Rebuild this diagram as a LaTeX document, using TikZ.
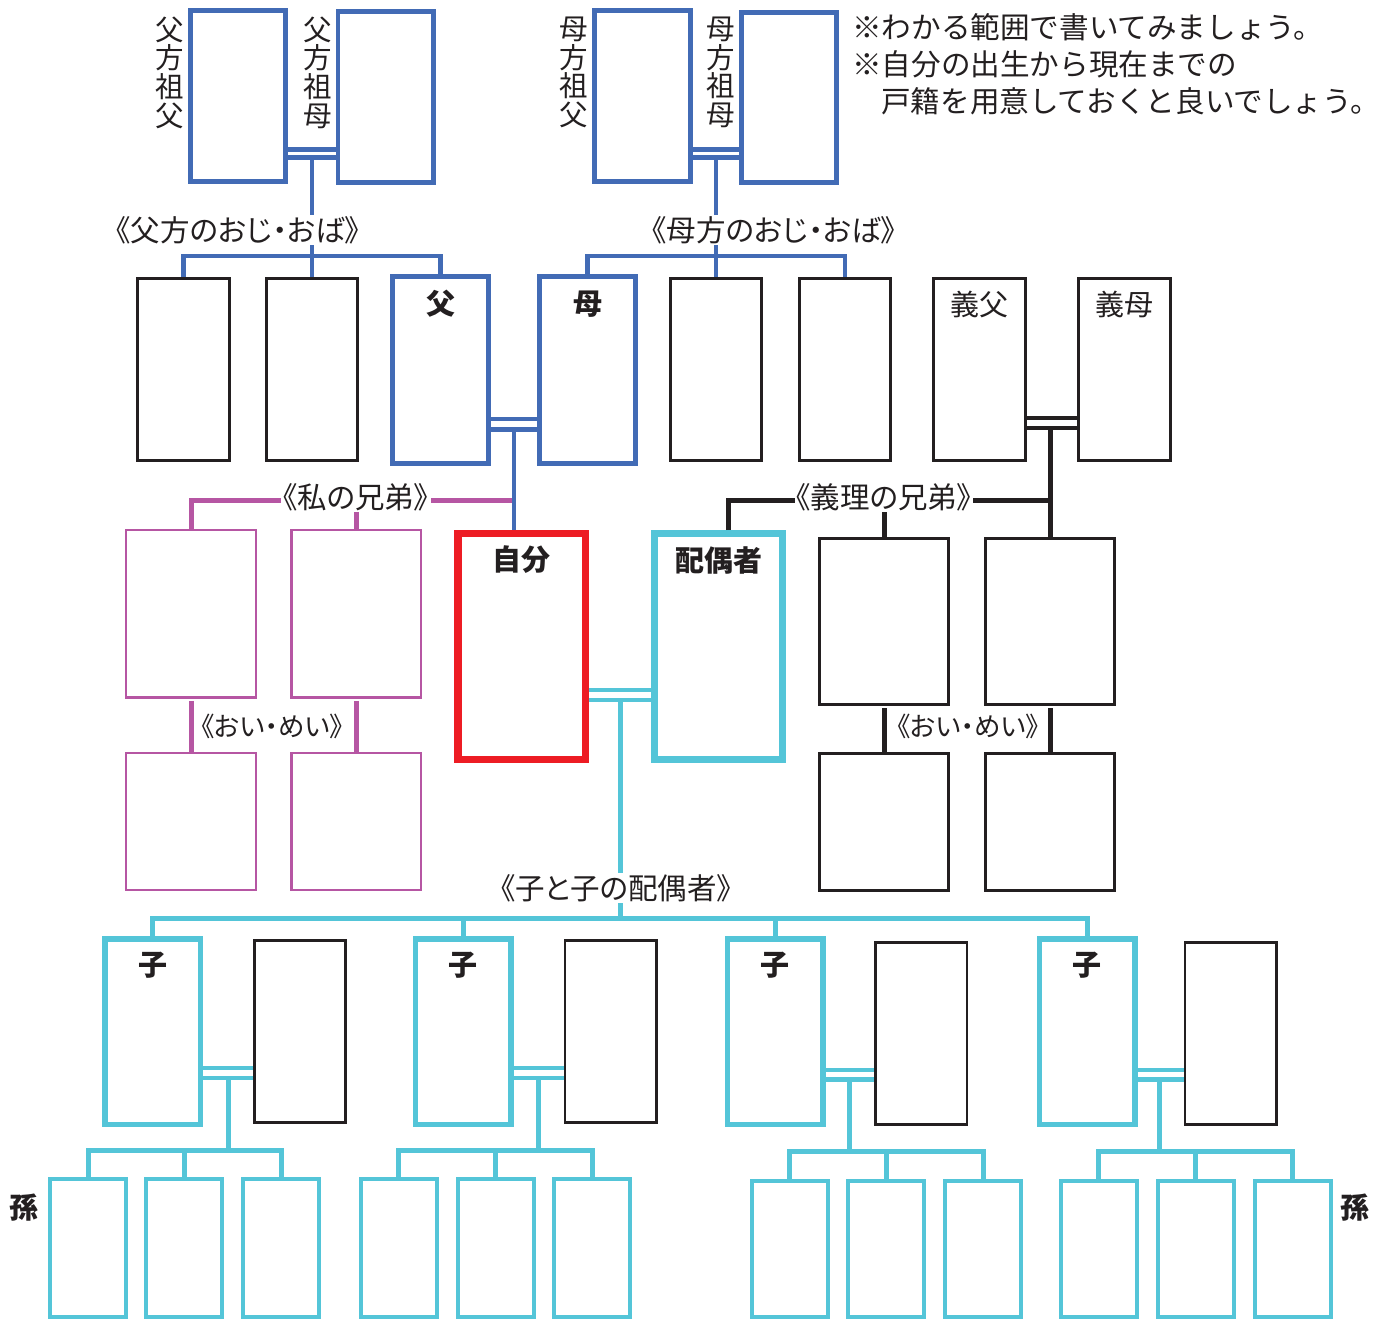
\documentclass[tikz,border=0pt]{standalone}
\usepackage{fontspec}
\newfontfamily\jp{Noto Sans CJK JP}
\newfontfamily\jpp[RawFeature=+palt]{Noto Sans CJK JP}
\definecolor{fblue}{RGB}{66,107,181}
\definecolor{fpurple}{RGB}{182,86,163}
\definecolor{fred}{RGB}{237,28,36}
\definecolor{fcyan}{RGB}{84,197,216}
\definecolor{kblack}{RGB}{35,31,32}
\begin{document}
\begin{tikzpicture}[x=1pt,y=-1pt,
  bx/.style={fill=white,inner sep=0pt},
  bluebox/.style={bx,draw=fblue,line width=4.8pt},
  blackbox/.style={bx,draw=kblack,line width=2.6pt},
  purplebox/.style={bx,draw=fpurple,line width=2.4pt},
  redbox/.style={bx,draw=fred,line width=7.3pt},
  cyanbig/.style={bx,draw=fcyan,line width=7.3pt},
  cyanmid/.style={bx,draw=fcyan,line width=5.5pt},
  cyansmall/.style={bx,draw=fcyan,line width=4pt},
  bline/.style={draw=fblue,line width=4.7pt},
  pline/.style={draw=fpurple,line width=5pt},
  cline/.style={draw=fcyan,line width=5pt},
  kline/.style={draw=kblack,line width=5pt},
  bdbl/.style={draw=fblue,line width=4.6pt},
  cdbl/.style={draw=fcyan,line width=4.2pt},
  kdbl/.style={draw=kblack,line width=4.4pt},
  ttl/.style={inner sep=0pt,text=kblack,font=\jp\bfseries\fontsize{29}{29}\selectfont},
  ttlr/.style={inner sep=0pt,text=kblack,font=\jp\fontsize{29}{29}\selectfont},
  vt/.style={inner sep=0pt,align=center,text=kblack,font=\jp\fontsize{28.5}{28.6}\selectfont},
  lbl/.style={fill=white,inner sep=1.5pt,text=kblack,font=\jpp\fontsize{29.5}{29.5}\selectfont},
  lbls/.style={fill=white,inner sep=1pt,text=kblack,font=\jpp\fontsize{26.5}{26.5}\selectfont},
  note/.style={inner sep=0pt,anchor=base west,text=kblack,font=\jp\fontsize{29.6}{29.6}\selectfont}
]
\useasboundingbox (0,0) rectangle (1386,1320);

% ---------- grandparents ----------
\node[bluebox,minimum width=95.2pt,minimum height=171.2pt] (gpf1) at (238,96) {};
\node[bluebox,minimum width=95.2pt,minimum height=171.2pt] (gpf2) at (385.5,97) {};
\node[bluebox,minimum width=96.2pt,minimum height=171.2pt] (gpm1) at (642.5,96) {};
\node[bluebox,minimum width=95.2pt,minimum height=170.2pt] (gpm2) at (789,97.5) {};
\node[vt] (tgf1) at (170,72.5) {父\\方\\祖\\父};
\node[vt] (tgf2) at (317.5,72.5) {父\\方\\祖\\母};
\node[vt] (tgm1) at (574,72.5) {母\\方\\祖\\父};
\node[vt] (tgm2) at (721,72.5) {母\\方\\祖\\母};

% ---------- notes ----------
\node[note] (note1) at (852,38.5) {※わかる範囲で書いてみましょう。};
\node[note] (note2) at (852,75.5) {※自分の出生から現在までの};
\node[note] (note3) at (881,112.5) {戸籍を用意しておくと良いでしょう。};

% ---------- parents row ----------
\node[blackbox,minimum width=92.4pt,minimum height=182.4pt] (uA) at (183.5,369.5) {};
\node[blackbox,minimum width=91.4pt,minimum height=182.4pt] (uB) at (312,369.5) {};
\node[bluebox,minimum width=96.2pt,minimum height=187.2pt] (fa) at (440.5,370) {};
\node[bluebox,minimum width=96.2pt,minimum height=187.2pt] (mo) at (587.5,370) {};
\node[blackbox,minimum width=91.4pt,minimum height=182.4pt] (uC) at (716,369.5) {};
\node[blackbox,minimum width=91.4pt,minimum height=182.4pt] (uD) at (845,369.5) {};
\node[blackbox,minimum width=92.4pt,minimum height=182.4pt] (gif) at (979.5,369.5) {};
\node[blackbox,minimum width=92.4pt,minimum height=182.4pt] (gim) at (1124.5,369.5) {};
\node[ttl] (tfa) at (440.5,304) {父};
\node[ttl] (tmo) at (587.5,304) {母};
\node[ttlr] (tgif) at (979.5,304) {義父};
\node[ttlr] (tgim) at (1124.5,304) {義母};

% ---------- me row ----------
\node[purplebox,minimum width=129.9pt,minimum height=167.3pt] (sib1) at (191.1,613.9) {};
\node[purplebox,minimum width=129.9pt,minimum height=167.3pt] (sib2) at (356.3,613.9) {};
\node[purplebox,minimum width=129.9pt,minimum height=136.6pt] (neph1) at (191.1,821.5) {};
\node[purplebox,minimum width=129.9pt,minimum height=136.6pt] (neph2) at (356.3,821.5) {};
\node[redbox,minimum width=127.7pt,minimum height=226pt] (me) at (521.8,646.7) {};
\node[cyanbig,minimum width=127.7pt,minimum height=226pt] (sp) at (718.5,646.7) {};
\node[blackbox,minimum width=129.4pt,minimum height=166.4pt] (isib1) at (884,621.5) {};
\node[blackbox,minimum width=129.4pt,minimum height=166.4pt] (isib2) at (1050,621.5) {};
\node[blackbox,minimum width=129.4pt,minimum height=137.4pt] (ineph1) at (884,822) {};
\node[blackbox,minimum width=129.4pt,minimum height=137.4pt] (ineph2) at (1050,822) {};
\node[ttl] (tme) at (521.8,560) {自分};
\node[ttl] (tsp) at (718.5,560) {配偶者};

% ---------- children row ----------
\node[cyanmid,minimum width=95.5pt,minimum height=185.5pt] (c1) at (152.5,1031.5) {};
\node[cyanmid,minimum width=95.5pt,minimum height=185.5pt] (c2) at (463,1031.5) {};
\node[cyanmid,minimum width=95.5pt,minimum height=185.5pt] (c3) at (775,1031.5) {};
\node[cyanmid,minimum width=95.5pt,minimum height=185.5pt] (c4) at (1087,1031.5) {};
\node[blackbox,minimum width=91.4pt,minimum height=182.4pt] (s1) at (300,1031.5) {};
\node[blackbox,minimum width=91.4pt,minimum height=182.4pt] (s2) at (610.8,1031.5) {};
\node[blackbox,minimum width=91.4pt,minimum height=182.4pt] (s3) at (921.3,1033.5) {};
\node[blackbox,minimum width=91.4pt,minimum height=182.4pt] (s4) at (1230.6,1033.5) {};
\node[ttl] (tc1) at (152.5,965) {子};
\node[ttl] (tc2) at (463,965) {子};
\node[ttl] (tc3) at (775,965) {子};
\node[ttl] (tc4) at (1087,965) {子};

% ---------- grandchildren ----------
\foreach \n/\x in {g11/88,g12/184.3,g13/281,g21/398.8,g22/495.5,g23/592.3}
  \node[cyansmall,minimum width=76pt,minimum height=138pt] (\n) at (\x,1248) {};
\foreach \n/\x in {g31/789.5,g32/886.3,g33/983.2,g41/1098.8,g42/1195.5,g43/1292.5}
  \node[cyansmall,minimum width=76pt,minimum height=136pt] (\n) at (\x,1249) {};
\node[ttl] (tmagoL) at (24,1208) {孫};
\node[ttl] (tmagoR) at (1355,1208) {孫};

% ---------- helper coordinates ----------
\coordinate (yG1) at (0,149.5);
\coordinate (yG2) at (0,157.5);
\coordinate (bU) at (0,256);
\coordinate (yP1) at (0,419);
\coordinate (yP2) at (0,429.5);
\coordinate (jP) at (514,429.5);
\coordinate (bS) at (0,500);
\coordinate (yI1) at (0,418);
\coordinate (yI2) at (0,428);
\coordinate (xI) at (728,0);
\coordinate (yM1) at (0,690);
\coordinate (yM2) at (0,700);
\coordinate (jC) at (620,700);
\coordinate (bC) at (0,918);
\coordinate (yA1) at (0,1068);
\coordinate (yA2) at (0,1078);
\coordinate (yB1) at (0,1070);
\coordinate (yB2) at (0,1079.5);
\coordinate (bGa) at (0,1150);
\coordinate (bGb) at (0,1151.5);
\coordinate (j1) at (228,1078);
\coordinate (j2) at (538,1078);
\coordinate (j3) at (849.5,1079.5);
\coordinate (j4) at (1159,1079.5);

% ---------- blue connectors ----------
\draw[bdbl] (gpf1.east |- yG1) -- (gpf2.west |- yG1);
\draw[bdbl] (gpf1.east |- yG2) -- (gpf2.west |- yG2);
\draw[bdbl] (gpm1.east |- yG1) -- (gpm2.west |- yG1);
\draw[bdbl] (gpm1.east |- yG2) -- (gpm2.west |- yG2);
\draw[bline] (uB.north |- yG2) -- (uB.north);
\draw[bline] (uA.north) -- (uA.north |- bU) -- (fa.north |- bU) -- (fa.north);
\draw[bline] (uC.north |- yG2) -- (uC.north);
\draw[bline] (mo.north) -- (mo.north |- bU) -- (uD.north |- bU) -- (uD.north);
\draw[bdbl] (fa.east |- yP1) -- (mo.west |- yP1);
\draw[bdbl] (fa.east |- yP2) -- (mo.west |- yP2);

% ---------- purple connectors ----------
\draw[pline] (sib1.north) -- (sib1.north |- bS) -- (jP |- bS);
\draw[pline] (sib2.north |- bS) -- (sib2.north);
\draw[pline,shorten <=2pt] (sib1.south) -- (neph1.north);
\draw[pline,shorten <=2pt] (sib2.south) -- (neph2.north);
\draw[bline] (jP) -- (jP |- me.north);

% ---------- black in-law connectors ----------
\draw[kdbl] (gif.east |- yI1) -- (gim.west |- yI1);
\draw[kdbl] (gif.east |- yI2) -- (gim.west |- yI2);
\draw[kline] (isib2.north |- yI2) -- (isib2.north);
\draw[kline] (xI |- sp.north) -- (xI |- bS) -- (isib2.north |- bS);
\draw[kline] (isib1.north |- bS) -- (isib1.north);
\draw[kline,shorten <=2pt] (isib1.south) -- (ineph1.north);
\draw[kline,shorten <=2pt] (isib2.south) -- (ineph2.north);

% ---------- cyan connectors ----------
\draw[cdbl] (me.east |- yM1) -- (sp.west |- yM1);
\draw[cdbl] (me.east |- yM2) -- (sp.west |- yM2);
\draw[cline] (jC) -- (jC |- bC);
\draw[cline] (c1.north) -- (c1.north |- bC) -- (c4.north |- bC) -- (c4.north);
\draw[cline] (c2.north |- bC) -- (c2.north);
\draw[cline] (c3.north |- bC) -- (c3.north);

\draw[cdbl] (c1.east |- yA1) -- (s1.west |- yA1);
\draw[cdbl] (c1.east |- yA2) -- (s1.west |- yA2);
\draw[cdbl] (c2.east |- yA1) -- (s2.west |- yA1);
\draw[cdbl] (c2.east |- yA2) -- (s2.west |- yA2);
\draw[cdbl] (c3.east |- yB1) -- (s3.west |- yB1);
\draw[cdbl] (c3.east |- yB2) -- (s3.west |- yB2);
\draw[cdbl] (c4.east |- yB1) -- (s4.west |- yB1);
\draw[cdbl] (c4.east |- yB2) -- (s4.west |- yB2);

\draw[cline] (j1) -- (j1 |- bGa);
\draw[cline] (g11.north) -- (g11.north |- bGa) -- (g13.north |- bGa) -- (g13.north);
\draw[cline] (g12.north |- bGa) -- (g12.north);
\draw[cline] (j2) -- (j2 |- bGa);
\draw[cline] (g21.north) -- (g21.north |- bGa) -- (g23.north |- bGa) -- (g23.north);
\draw[cline] (g22.north |- bGa) -- (g22.north);
\draw[cline] (j3) -- (j3 |- bGb);
\draw[cline] (g31.north) -- (g31.north |- bGb) -- (g33.north |- bGb) -- (g33.north);
\draw[cline] (g32.north |- bGb) -- (g32.north);
\draw[cline] (j4) -- (j4 |- bGb);
\draw[cline] (g41.north) -- (g41.north |- bGb) -- (g43.north |- bGb) -- (g43.north);
\draw[cline] (g42.north |- bGb) -- (g42.north);

% ---------- labels ----------
\node[lbl] (L1) at (238,230) {《父方のおじ・おば》};
\node[lbl] (L2) at (774,230) {《母方のおじ・おば》};
\node[lbl] (L3) at (356,497) {《私の兄弟》};
\node[lbl] (L4) at (884,497) {《義理の兄弟》};
\node[lbls] (L5) at (272,726) {《おい・めい》};
\node[lbls] (L6) at (968,726) {《おい・めい》};
\node[lbl] (L7) at (616,888) {《子と子の配偶者》};
\end{tikzpicture}
\end{document}
